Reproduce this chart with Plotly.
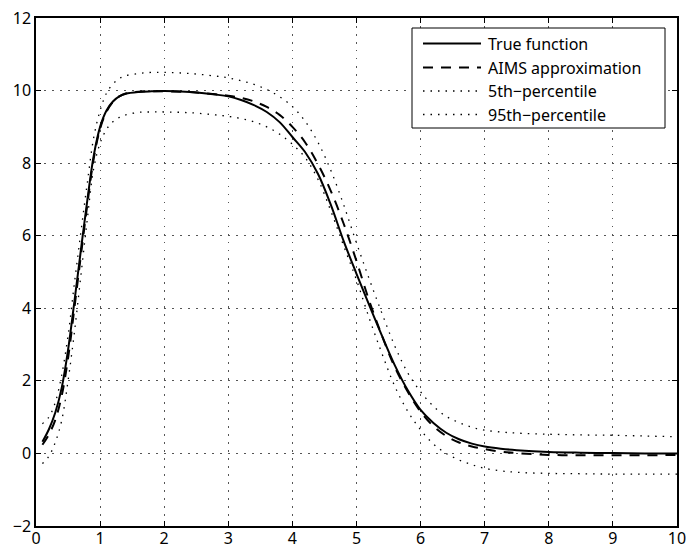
import plotly.graph_objects as go

# ---- data ----
x_vals = [0.1, 0.2, 0.3, 0.4, 0.5, 0.6, 0.7, 0.8, 0.9, 1.0, 1.1, 1.2, 1.3, 1.4, 1.6, 1.8, 2.0,
          2.4, 2.8, 3.0, 3.2, 3.4, 3.6, 3.8, 4.0, 4.2, 4.4, 4.6, 4.8, 5.0, 5.2, 5.4, 5.6,
          5.8, 6.0, 6.2, 6.4, 6.6, 6.8, 7.0, 7.25, 7.5, 8.0, 8.5, 9.0, 9.5, 10.0]

true_y = [0.32, 0.66, 1.12, 1.8, 2.85, 4.2, 5.6, 6.97, 8.2, 9.0, 9.45, 9.7, 9.84, 9.91, 9.96,
          9.98, 9.99, 9.96, 9.89, 9.84, 9.74, 9.6, 9.41, 9.13, 8.72, 8.3, 7.7, 6.85, 5.85,
          4.95, 4.08, 3.23, 2.42, 1.74, 1.2, 0.84, 0.57, 0.39, 0.27, 0.19, 0.13, 0.09,
          0.04, 0.02, 0.01, 0.0, 0.0]

aims_y = [0.24, 0.52, 0.92, 1.58, 2.62, 4.02, 5.45, 6.85, 8.12, 8.95, 9.42, 9.69, 9.84, 9.92,
          9.97, 9.98, 9.98, 9.96, 9.9, 9.86, 9.8, 9.7, 9.55, 9.33, 9.0, 8.57, 7.97, 7.23,
          6.33, 5.3, 4.2, 3.23, 2.37, 1.7, 1.15, 0.75, 0.48, 0.3, 0.19, 0.12, 0.05, 0.01,
          -0.04, -0.05, -0.05, -0.05, -0.04]

p5_y = [-0.28, -0.08, 0.3, 0.9, 2.0, 3.35, 4.9, 6.45, 7.85, 8.55, 8.93, 9.14, 9.26, 9.33, 9.4,
        9.41, 9.41, 9.39, 9.33, 9.29, 9.23, 9.14, 9.0, 8.8, 8.52, 8.15, 7.55, 6.68, 5.72, 4.78,
        3.72, 2.74, 1.84, 1.16, 0.65, 0.26, 0.0, -0.18, -0.31, -0.41, -0.48, -0.52, -0.55,
        -0.56, -0.57, -0.57, -0.57]

p95_y = [0.82, 1.0, 1.4, 2.15, 3.25, 4.7, 6.1, 7.45, 8.7, 9.45, 9.93, 10.18, 10.33, 10.41,
         10.47, 10.5, 10.5, 10.47, 10.4, 10.35, 10.27, 10.17, 10.03, 9.83, 9.56, 9.15, 8.57,
         7.8, 6.85, 5.8, 4.8, 3.85, 2.95, 2.22, 1.7, 1.3, 1.02, 0.85, 0.72, 0.64, 0.59,
         0.56, 0.53, 0.51, 0.5, 0.48, 0.46]

x_ticks = [0, 1, 2, 3, 4, 5, 6, 7, 8, 9, 10]
y_ticks = [-2, 0, 2, 4, 6, 8, 10, 12]

legend_labels = ["True function", "AIMS approximation", "5th\u2212percentile", "95th\u2212percentile"]
legend_dashes = ["solid", "10px,8px", "1.5px,6px", "1.5px,6px"]
legend_widths = [2, 2, 1.3, 1.3]

FONT = "Noto Sans, Liberation Sans, sans-serif"

fig = go.Figure()
series = [(p5_y, legend_dashes[2], legend_widths[2]),
          (p95_y, legend_dashes[3], legend_widths[3]),
          (aims_y, legend_dashes[1], legend_widths[1]),
          (true_y, legend_dashes[0], legend_widths[0])]
names = [legend_labels[2], legend_labels[3], legend_labels[1], legend_labels[0]]
for (ys, dash, w), nm in zip(series, names):
    fig.add_trace(go.Scatter(
        x=x_vals, y=ys, mode="lines", name=nm, showlegend=False,
        line=dict(color="black", width=w, dash=dash, shape="spline", smoothing=1.0),
    ))

W, H = 688, 550
L, R, T, B = 36, 11, 18, 24
pw, ph = W - L - R, H - T - B


def px2paper(px, py):
    return (px - L) / pw, (H - B - py) / ph


# manual legend (MATLAB style box)
bx0, by0 = px2paper(412, 28)
bx1, by1 = px2paper(665, 128)
fig.add_shape(type="rect", xref="paper", yref="paper", x0=bx0, x1=bx1, y0=by1, y1=by0,
              line=dict(color="black", width=1), fillcolor="white", layer="above")
rows = [43.5, 67.5, 91, 114.5]
for lab, dash, w, ry in zip(legend_labels, legend_dashes, legend_widths, rows):
    lx0, ly = px2paper(423, ry)
    lx1, _ = px2paper(481, ry)
    fig.add_shape(type="line", xref="paper", yref="paper", x0=lx0, x1=lx1, y0=ly, y1=ly,
                  line=dict(color="black", width=w, dash=dash), layer="above")
    tx, _ = px2paper(486, ry)
    fig.add_annotation(xref="paper", yref="paper", x=tx, y=ly, text=lab, showarrow=False,
                       xanchor="left", yanchor="middle",
                       font=dict(family=FONT, size=16, color="black"))

axis_common = dict(
    showline=True, linecolor="black", linewidth=1.5, mirror="ticks",
    ticks="inside", ticklen=5, tickcolor="black", tickwidth=1,
    showgrid=True, gridcolor="#555555", gridwidth=1, griddash="1.5px,6.5px",
    zeroline=False, automargin=False,
    tickfont=dict(family=FONT, size=16, color="black"),
)
fig.update_xaxes(range=[0, 10], tickvals=x_ticks, ticktext=[str(v) for v in x_ticks],
                 ticklabelstandoff=-3, **axis_common)
fig.update_yaxes(range=[-2, 12], tickvals=y_ticks,
                 ticktext=[("\u2212" + str(-v)) if v < 0 else str(v) for v in y_ticks],
                 **axis_common)
fig.update_layout(
    width=W, height=H,
    margin=dict(l=L, r=R, t=T, b=B, autoexpand=False),
    paper_bgcolor="white", plot_bgcolor="white",
    showlegend=False,
)
fig.write_html("out.html")
